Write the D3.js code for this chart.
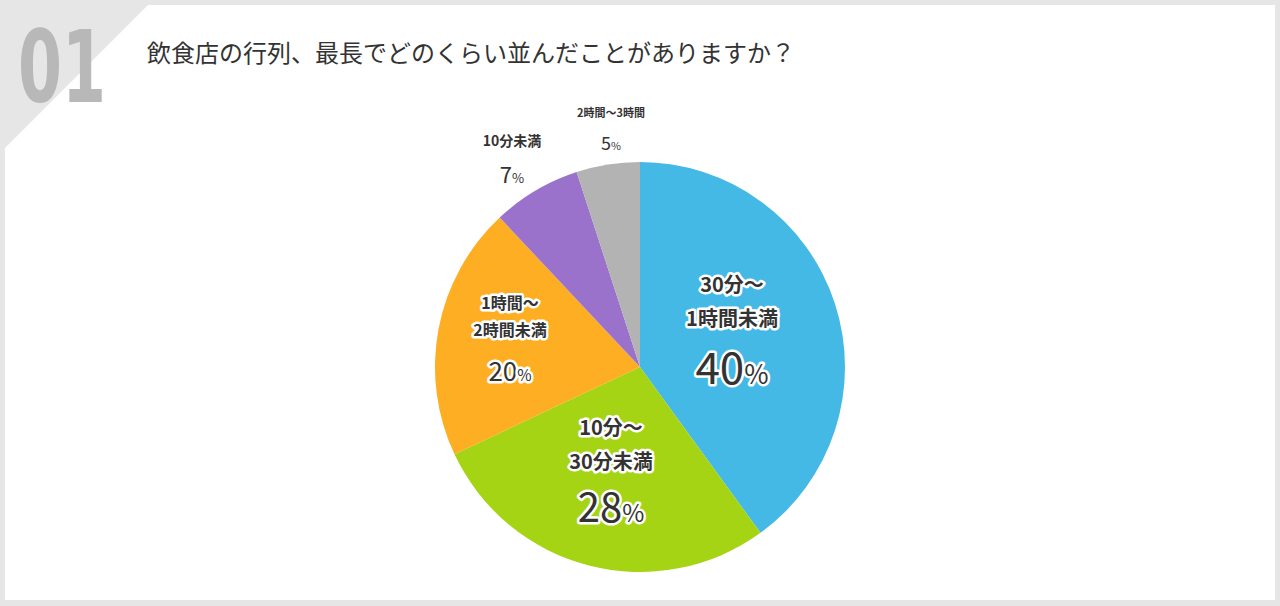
<!DOCTYPE html>
<html><head><meta charset="utf-8">
<script src="https://cdn.jsdelivr.net/npm/d3@7"></script>
<style>body{margin:0;background:#fff}svg{display:block;font-family:"Noto Sans CJK JP","Noto Sans",sans-serif}</style>
</head><body><svg id="c" width="1280" height="606"></svg>
<script>
const categories = ["30分～1時間未満","10分～30分未満","1時間～2時間未満","10分未満","2時間～3時間"];
const values = [40,28,20,7,5];
const colors = ["#45b9e5","#a5d414","#fdae23","#9b72cb","#b3b3b3"];
const labelLines = [["30分～","1時間未満"],["10分～","30分未満"],["1時間～","2時間未満"],["10分未満"],["2時間～3時間"]];
const title = "飲食店の行列、最長でどのくらい並んだことがありますか？";

const svg = d3.select("#c");
svg.append("rect").attr("width",1280).attr("height",606).attr("fill","#e6e6e6");
svg.append("path").attr("d","M148,5 L1275,5 L1275,600 L5,600 L5,148 Z").attr("fill","#fff");
svg.append("text").attr("x",18).attr("y",102).attr("font-family","'DejaVu Sans Condensed',Roboto,sans-serif")
  .attr("font-weight",700).attr("font-size",100).attr("fill","#b8b8b8").attr("textLength",88).attr("lengthAdjust","spacingAndGlyphs").text("01");
svg.append("text").attr("x",147).attr("y",62).attr("font-size",24).attr("fill","#333").text(title);

const cx=640, cy=367, r=205;
const pie = d3.pie().sort(null).value(d=>d)(values);
const arc = d3.arc().innerRadius(0).outerRadius(r);
const g = svg.append("g").attr("transform",`translate(${cx},${cy})`);
g.selectAll("path").data(pie).join("path").attr("d",arc).attr("fill",(d,i)=>colors[i]);

const specs = [
 {x:732, ly:[292,326], py:384, ls:20, ps:44, halo:true},
 {x:611, ly:[435,469], py:522, ls:20, ps:40, halo:true},
 {x:510, ly:[309,336], py:381, ls:16, ps:26, halo:true},
 {x:512, ly:[146], py:183, ls:14, ps:22, halo:false},
 {x:611, ly:[117], py:150, ls:11, ps:18, halo:false}
];
specs.forEach((s,i)=>{
  const lg = svg.append("g").attr("fill","#333").attr("text-anchor","middle");
  const add=(y,sz,txt,w)=>{
    const t=lg.append("text").attr("x",s.x).attr("y",y).attr("font-size",sz).attr("font-weight",w).text(txt);
    if(s.halo) t.attr("stroke","#fff").attr("stroke-width",5).attr("stroke-linejoin","round").attr("paint-order","stroke");
    return t;
  };
  labelLines[i].forEach((l,j)=>add(s.ly[j],s.ls,l,700));
  const p=add(s.py,s.ps,"",400);
  p.append("tspan").text(values[i]);
  p.append("tspan").attr("font-size",s.ps*0.6).text("%");
});
</script></body></html>
